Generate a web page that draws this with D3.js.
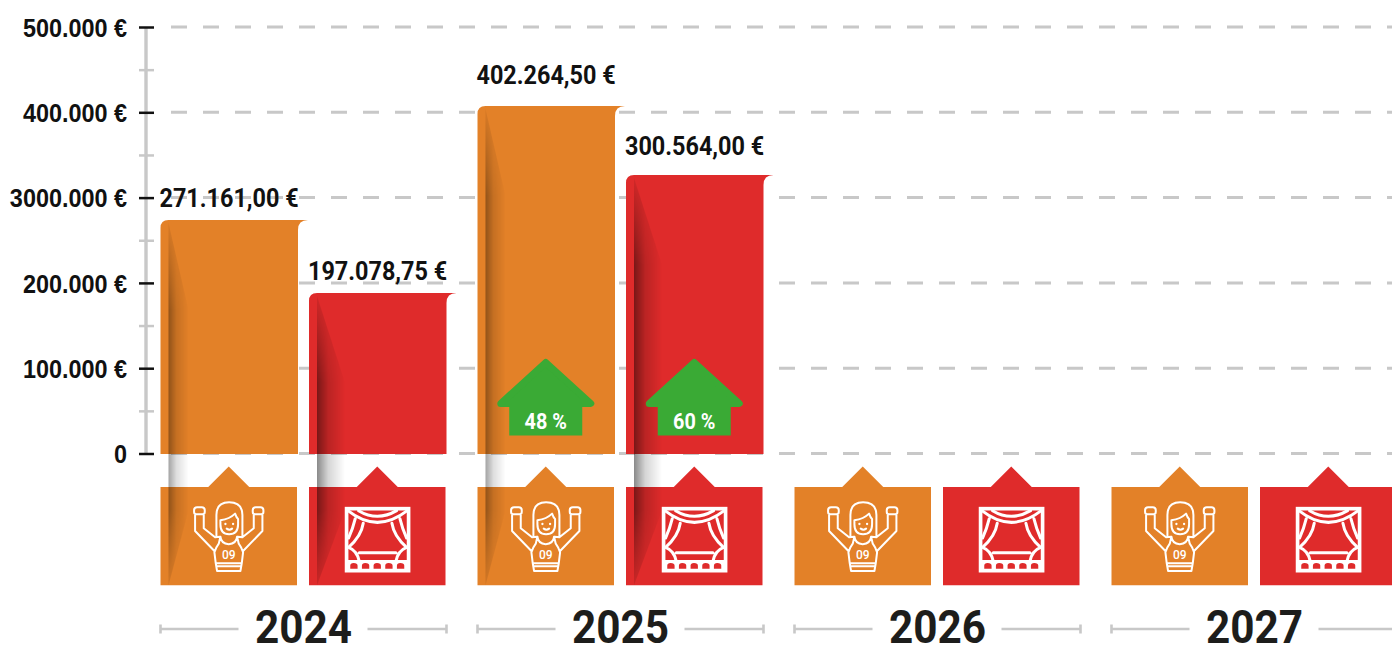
<!DOCTYPE html>
<html lang="en">
<head>
<meta charset="utf-8">
<title>Budget 2024-2027</title>
<script src="https://d3js.org/d3.v7.min.js"></script>
<style>
    html, body { margin: 0; padding: 0; background: #fff; overflow: hidden; }
    svg { display: block; font-family: Roboto, sans-serif; }
    .grid line { stroke: #c8c8c8; stroke-width: 3px; stroke-dasharray: 16 16; }
    .axis path { display: none; }
    .axis text { font-size: 26px; font-weight: 700; fill: #111; }
    .amount { font-size: 26px; font-weight: 700; fill: #111; }
    .year { font-size: 46px; font-weight: 700; fill: #1d1d1b; text-anchor: middle; }
    .growth { font-size: 22px; font-weight: 700; fill: #fff; text-anchor: middle; }
    .icon-line { fill: none; stroke: #fff; stroke-linecap: round; stroke-linejoin: round; }
</style>
</head>
<body>
<svg id="chart" width="1392" height="645"></svg>
<script>
// data
const years = ["2024", "2025", "2026", "2027"];
const seriesNames = ["sport", "theater"];
const seriesColors = ["#e38128", "#df2b2b"];

// amounts printed above the bars
const sportAmounts = [271161, 402264.5, null, null];
const theaterAmounts = [197078.75, 300564, null, null];
// bar tops as read against the y axis, the original does not draw them to scale
const sportLevels = [273700, 407400, null, null];
const theaterLevels = [188200, 326500, null, null];
const sportGrowth = [null, "48 %", null, null];
const theaterGrowth = [null, "60 %", null, null];

const yMajorTicks = [0, 100000, 200000, 300000, 400000, 500000];
const yMajorLabels = ["0", "100.000 €", "200.000 €", "3000.000 €", "400.000 €", "500.000 €"];
const yMinorTicks = [50000, 150000, 250000, 350000, 450000];

// gap between bar top and label baseline
const labelGaps = { sport: [13, 22], theater: [13, 20] };

const width = 1392, height = 645;
const svg = d3.select("#chart");
const defs = svg.append("defs");

// scales
const y = d3.scaleLinear().domain([0, 500000]).range([453.5, 27]);
const x0 = d3.scaleBand().domain(years).range([160.5, 1397.5]).paddingInner(31 / 317);
const x1 = d3.scaleBand().domain(seriesNames).range([0, x0.bandwidth()]).paddingInner(11 / 148.5);

const euro = d3.formatLocale({ decimal: ",", thousands: ".", grouping: [3], currency: ["", " €"] }).format("$,.2f");

// squeeze the text a bit, the original is set in a condensed face
function squeeze(sel, k) {
    sel.each(function() {
        d3.select(this)
            .attr("lengthAdjust", "spacingAndGlyphs")
            .attr("textLength", this.getComputedTextLength() * k);
    });
}

// gridlines
svg.append("g").attr("class", "grid")
    .selectAll("line")
    .data(yMajorTicks)
    .enter().append("line")
    .attr("x1", 171).attr("x2", width)
    .attr("y1", d => y(d)).attr("y2", d => y(d));

// axis
const axisX = 146;
svg.append("line")
    .attr("x1", axisX).attr("x2", axisX)
    .attr("y1", y(500000)).attr("y2", y(0))
    .attr("stroke", "#c8c8c8").attr("stroke-width", 3.4);

const minorAxis = svg.append("g").attr("class", "axis")
    .attr("transform", `translate(${axisX},0)`)
    .call(d3.axisLeft(y).tickValues(yMinorTicks).tickFormat(""));
minorAxis.selectAll("line").attr("x1", -7).attr("x2", 8).attr("stroke", "#c8c8c8").attr("stroke-width", 2.5);

const majorAxis = svg.append("g").attr("class", "axis")
    .attr("transform", `translate(${axisX},0)`)
    .call(d3.axisLeft(y).tickValues(yMajorTicks).tickFormat((d, i) => yMajorLabels[i]));
majorAxis.selectAll("line").attr("x1", -7).attr("x2", 8).attr("stroke", "#111").attr("stroke-width", 2.5);
majorAxis.selectAll("text").attr("x", -19).attr("dy", "0.36em").call(squeeze, 0.9);

// shadow gradients of the folded paper
[["sport", 0.36], ["theater", 0.46]].forEach(([name, o]) => {
    const g = defs.append("linearGradient").attr("id", "fold-" + name);
    g.append("stop").attr("offset", 0).attr("stop-color", "#000").attr("stop-opacity", o);
    g.append("stop").attr("offset", 0.4).attr("stop-color", "#000").attr("stop-opacity", o * 0.36);
    g.append("stop").attr("offset", 1).attr("stop-color", "#000").attr("stop-opacity", 0);
});

const boxTop = 487, boxBottom = 585.3, peakTop = 466.5;

function barPath(x, w, top, bottom) {
    const p = d3.path(), r = 8, flare = 10;
    p.moveTo(x, bottom);
    p.lineTo(x, top + r);
    p.quadraticCurveTo(x, top, x + r, top);
    p.lineTo(x + w + flare, top);
    p.quadraticCurveTo(x + w, top, x + w, top + flare);
    p.lineTo(x + w, bottom);
    p.closePath();
    return p.toString();
}

function boxPath(x, w) {
    const c = x + w / 2, p = d3.path();
    p.moveTo(x, boxBottom);
    p.lineTo(x, boxTop);
    p.lineTo(c - 20.5, boxTop);
    p.lineTo(c, peakTop);
    p.lineTo(c + 20.5, boxTop);
    p.lineTo(x + w, boxTop);
    p.lineTo(x + w, boxBottom);
    p.closePath();
    return p.toString();
}

function foldPath(x, top, reach) {
    const p = d3.path();
    p.moveTo(x + 8, top + 3);
    p.lineTo(x + reach, top + 90);
    p.lineTo(x + reach, boxBottom - 75);
    p.lineTo(x + 8, boxBottom);
    p.closePath();
    return p.toString();
}

// the fold comes out of the paper at the top and sinks back at the bottom
function foldMask(id, x, top, reach) {
    const grad = defs.append("linearGradient").attr("id", id + "-fade")
        .attr("gradientUnits", "userSpaceOnUse")
        .attr("x1", 0).attr("x2", 0).attr("y1", top).attr("y2", boxBottom);
    const at = v => (v - top) / (boxBottom - top);
    [[top, 0.1], [top + 90, 1], [510, 1], [boxBottom, 0.2]].forEach(([v, o]) => {
        grad.append("stop").attr("offset", at(v)).attr("stop-color", "#fff").attr("stop-opacity", o);
    });
    defs.append("mask").attr("id", id)
        .attr("maskUnits", "userSpaceOnUse")
        .attr("x", x).attr("y", top).attr("width", reach + 1).attr("height", boxBottom - top)
        .append("rect")
        .attr("x", x).attr("y", top).attr("width", reach + 1).attr("height", boxBottom - top)
        .attr("fill", `url(#${id}-fade)`);
}

function drawDancer(g) {
    g.append("path").attr("class", "icon-line").attr("stroke-width", 6)
        .attr("d", "M110 122V60Q110 22 148 22Q188 22 188 60V122"
            + "M122 76Q150 72 166 56Q170 68 175 72V88Q175 118 148 118Q122 118 122 88Z"
            + "M141 101Q149 107 157 101"
            + "M52 37H66Q75 37 75 46V51Q75 58 68 58H50Q43 58 43 51V46Q43 37 52 37Z"
            + "M228 37H242Q251 37 251 46V51Q251 58 244 58H226Q219 58 219 51V46Q219 37 228 37Z"
            + "M46 58V108L104 168M72 58V100L106 127L120 125"
            + "M248 58V108L190 168M222 58V100L188 127L174 125"
            + "M122 125Q124 146 147 148Q170 146 172 125"
            + "M122 125L117 146Q108 158 104 172L108 205H186L190 172Q186 158 177 146L172 125"
            + "M108 205L112 228H182L186 205M111 214H183");
    g.selectAll("circle").data([137, 160]).enter().append("circle")
        .attr("cx", d => d).attr("cy", 87).attr("r", 3.5).attr("fill", "#fff");
    g.append("text").text("09")
        .attr("x", 147).attr("y", 191)
        .attr("text-anchor", "middle")
        .attr("font-size", 36).attr("font-weight", 500).attr("fill", "#fff");
}

function drawStage(g, color) {
    g.append("rect").attr("x", 34).attr("y", 32).attr("width", 186).attr("height", 186)
        .attr("fill", "none").attr("stroke", "#fff").attr("stroke-width", 11);
    g.append("path").attr("class", "icon-line").attr("stroke-width", 9)
        .attr("d", "M70 38Q126 72 184 38M38 38Q126 108 216 38"
            + "M60 62Q52 95 40 120M84 76Q78 115 40 148"
            + "M194 62Q202 95 214 120M170 76Q176 115 214 148"
            + "M40 148Q66 158 72 190M214 148Q188 158 182 190"
            + "M72 164H182");
    g.append("rect").attr("x", 34).attr("y", 186).attr("width", 186).attr("height", 32).attr("fill", "#fff");
    g.selectAll(".lamp").data(d3.range(5)).enter().append("path")
        .attr("class", "lamp")
        .attr("fill", color)
        .attr("d", i => {
            const x = 45 + i * 35;
            return `M${x} 212V203Q${x} 195 ${x + 10} 195Q${x + 22} 195 ${x + 22} 203V212Z`;
        });
}

function drawArrow(g, cx, label) {
    g.append("path")
        .attr("fill", "#3aaa35").attr("stroke", "#3aaa35")
        .attr("stroke-width", 7).attr("stroke-linejoin", "round")
        .attr("d", `M${cx} 362.5L${cx + 45} 403.5H${cx - 45}Z`);
    g.append("rect")
        .attr("x", cx - 36.5).attr("y", 404)
        .attr("width", 73).attr("height", 31.5)
        .attr("fill", "#3aaa35");
    g.append("text").attr("class", "growth")
        .attr("x", cx).attr("y", 428.5)
        .text(label)
        .call(squeeze, 0.9);
}

const seriesData = [
    { name: "sport", levels: sportLevels, amounts: sportAmounts, growth: sportGrowth },
    { name: "theater", levels: theaterLevels, amounts: theaterAmounts, growth: theaterGrowth }
];

// bars, icon boxes, folds
seriesData.forEach((s, si) => {
    const color = seriesColors[si];
    years.forEach((year, yi) => {
        const x = x0(year) + x1(s.name);
        const w = x1.bandwidth();
        const g = svg.append("g").attr("class", "bar-group");

        g.append("path").attr("d", boxPath(x, w - 1)).attr("fill", color);

        const icon = g.append("g");
        if (si === 0) {
            icon.attr("transform", `translate(${x + (w - 1) / 2 - 49},495) scale(${1 / 3})`);
            drawDancer(icon);
        } else {
            icon.attr("transform", `translate(${x + (w - 1) / 2 - 42},498) scale(${1 / 3})`);
            drawStage(icon, color);
        }

        const level = s.levels[yi];
        if (level === null) return;

        const top = y(level);
        const reach = si === 0 ? 28 : 36;
        const maskId = `fold-mask-${si}-${yi}`;
        foldMask(maskId, x, top, reach);

        g.append("path").attr("d", barPath(x, w, top, y(0) + 0.5)).attr("fill", color);
        g.append("path")
            .attr("d", foldPath(x, top, reach))
            .attr("fill", `url(#fold-${s.name})`)
            .attr("mask", `url(#${maskId})`);

        if (s.growth[yi]) drawArrow(g, x + w / 2 - 0.5, s.growth[yi]);

        g.append("text").attr("class", "amount")
            .attr("x", x - 1)
            .attr("y", top - labelGaps[s.name][yi])
            .text(euro(s.amounts[yi]))
            .call(squeeze, 0.9);
    });
});

// year brackets
const bracketY = 629;
const bracket = svg.append("g").selectAll("g")
    .data(years)
    .enter().append("g")
    .attr("transform", d => `translate(${x0(d)},0)`);

bracket.append("path")
    .attr("fill", "none").attr("stroke", "#c8c8c8").attr("stroke-width", 2.6)
    .attr("d", () => {
        const b = x0.bandwidth(), c = b / 2;
        return `M0 ${bracketY - 4.5}V${bracketY + 4.5}M0 ${bracketY}H${c - 65}`
            + `M${c + 64} ${bracketY}H${b}M${b} ${bracketY - 4.5}V${bracketY + 4.5}`;
    });

bracket.append("text").attr("class", "year")
    .attr("x", x0.bandwidth() / 2)
    .attr("y", 643)
    .text(d => d)
    .call(squeeze, 0.92);
</script>
</body>
</html>
